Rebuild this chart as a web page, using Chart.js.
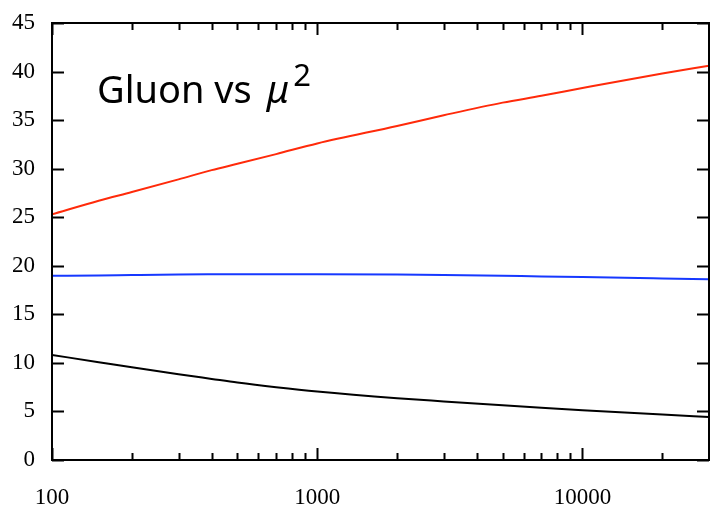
<!DOCTYPE html>
<html>
<head>
<meta charset="utf-8">
<script src="https://cdn.jsdelivr.net/npm/chart.js@4/dist/chart.umd.min.js"></script>
<style>
  html, body { margin: 0; padding: 0; background: #fff; }
  #wrap { width: 715px; height: 509px; position: relative; }
</style>
</head>
<body>
<div id="wrap"><canvas id="gluon" width="715" height="509"></canvas></div>
<script>
  // mu^2 sample points and the three curves
  const muSq      = [100, 150, 200, 300, 400, 500, 700, 1000, 2000, 3000, 5000, 7000, 10000, 20000, 30000];
  const redVals   = [25.3, 26.7, 27.6, 28.9, 29.85, 30.5, 31.5, 32.6, 34.4, 35.5, 36.8, 37.5, 38.3, 39.8, 40.6];
  const blueVals  = [18.97, 19.01, 19.05, 19.1, 19.12, 19.13, 19.14, 19.14, 19.1, 19.05, 18.97, 18.9, 18.85, 18.7, 18.6];
  const blackVals = [10.82, 10.07, 9.54, 8.83, 8.35, 7.98, 7.5, 7.05, 6.36, 6.03, 5.63, 5.38, 5.13, 4.68, 4.43];

  // tick labels / tick marks
  const xLabelTicks = [100, 1000, 10000];
  const xMinorTicks = [200, 300, 400, 500, 600, 700, 800, 900,
                       2000, 3000, 4000, 5000, 6000, 7000, 8000, 9000, 20000];
  const yTicks = [0, 5, 10, 15, 20, 25, 30, 35, 40, 45];

  const toPoints = vals => muSq.map((m, i) => ({ x: m, y: vals[i] }));

  // Frame + inward ticks on all four sides, plus the in-plot label
  const framePlugin = {
    id: 'frame',
    afterDraw(chart) {
      const { ctx, chartArea: a, scales } = chart;
      const xs = scales.x, ys = scales.y;
      ctx.save();
      ctx.strokeStyle = '#000';
      ctx.lineWidth = 2;
      ctx.strokeRect(a.left, a.top, a.right - a.left, a.bottom - a.top);

      ctx.beginPath();
      const tickX = (v, len) => {
        const px = Math.round(xs.getPixelForValue(v)) + 0.5;
        ctx.moveTo(px, a.bottom); ctx.lineTo(px, a.bottom - len);
        ctx.moveTo(px, a.top);    ctx.lineTo(px, a.top + len);
      };
      xLabelTicks.forEach(v => tickX(v, 12));
      xMinorTicks.forEach(v => tickX(v, 7));
      yTicks.forEach(v => {
        const py = Math.round(ys.getPixelForValue(v)) + 0.5;
        ctx.moveTo(a.left, py);  ctx.lineTo(a.left + 12, py);
        ctx.moveTo(a.right, py); ctx.lineTo(a.right - 12, py);
      });
      ctx.stroke();

      // title text inside the plot
      ctx.fillStyle = '#000';
      ctx.textBaseline = 'alphabetic';
      ctx.textAlign = 'left';
      ctx.font = '38px "Noto Sans"';
      let x = 97;
      const base = 103;
      const t1 = 'Gluon vs';
      ctx.fillText(t1, x, base);
      x += ctx.measureText(t1).width + 15;
      ctx.font = 'italic 38px "Noto Sans"';
      ctx.fillText('\u03bc', x, base);
      x += ctx.measureText('\u03bc').width + 4;
      ctx.font = '31px "Noto Sans"';
      ctx.fillText('2', x, 86);
      ctx.restore();
    }
  };

  const tickFont = { family: '"Liberation Serif", "Times New Roman", serif', size: 23 };

  new Chart(document.getElementById('gluon').getContext('2d'), {
    type: 'line',
    data: {
      datasets: [
        { label: 'red', data: toPoints(redVals), borderColor: '#ff2a0a', borderWidth: 2, pointRadius: 0, cubicInterpolationMode: 'monotone' },
        { label: 'blue', data: toPoints(blueVals), borderColor: '#1638ff', borderWidth: 2, pointRadius: 0, cubicInterpolationMode: 'monotone' },
        { label: 'black', data: toPoints(blackVals), borderColor: '#000000', borderWidth: 2, pointRadius: 0, cubicInterpolationMode: 'monotone' }
      ]
    },
    options: {
      responsive: false,
      animation: false,
      layout: { padding: { top: 23, right: 6, left: 0, bottom: 0 } },
      plugins: { legend: { display: false }, tooltip: { enabled: false }, title: { display: false } },
      scales: {
        x: {
          type: 'logarithmic',
          min: 100, max: 30000,
          grid: { display: false, drawTicks: false },
          border: { display: false },
          afterBuildTicks: s => { s.ticks = xLabelTicks.map(v => ({ value: v })); },
          afterFit: s => { s.height = 49; s.paddingLeft = 0; s.paddingRight = 0; },
          ticks: { color: '#000', font: tickFont, padding: 24, maxRotation: 0, autoSkip: false, callback: v => String(v) }
        },
        y: {
          min: 0, max: 45,
          grid: { display: false, drawTicks: false },
          border: { display: false },
          afterFit: s => { s.width = 52; s.paddingTop = 0; s.paddingBottom = 0; },
          ticks: { color: '#000', font: tickFont, padding: 17, stepSize: 5 }
        }
      }
    },
    plugins: [framePlugin]
  });
</script>
</body>
</html>
